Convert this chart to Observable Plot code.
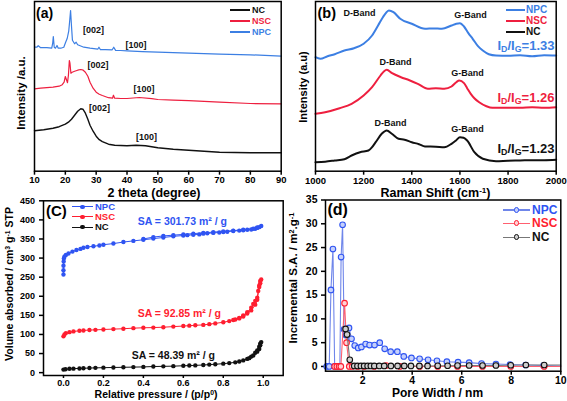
<!DOCTYPE html>
<html><head><meta charset="utf-8">
<script src="https://cdn.jsdelivr.net/npm/d3@7"></script>
<script src="https://cdn.jsdelivr.net/npm/@observablehq/plot@0.6"></script>
<style>
body{margin:0;background:#fff;}
#fig{position:relative;width:567px;height:401px;overflow:hidden;font-family:"Liberation Sans",Arial,sans-serif;font-weight:bold;}
#fig svg{position:absolute;}
.t{position:absolute;white-space:nowrap;line-height:1;}
.t sub{font-size:0.68em;vertical-align:-0.3em;line-height:0;}
.t sup{font-size:0.65em;vertical-align:0.45em;line-height:0;}
</style></head><body><div id="fig"></div>
<script>
// ---------- data: (a) XRD ----------
const xrdTicks = [10,20,30,40,50,60,70,80,90];
const xrdNC = [[10,40.5],[13,41.5],[16,43],[18,44.5],[20,47],[21,49],[22,52],[23,56],[24,60],[25,62.5],[25.7,62],[26.5,58],[27.3,52],[28,46],[29,40],[30,35],[31,31.5],[32,29.5],[34,27],[36,26],[40,25.5],[43,26],[46,25.5],[50,23.5],[55,22],[60,21],[65,20],[70,19],[80,18.5],[90,18.5]];
const xrdNSC = [[10,82.4],[12,83],[14,83.5],[16,84],[18,85],[19,86.5],[19.6,89],[20,94.7],[20.3,92],[20.7,88.5],[21,96],[21.3,110.7],[21.5,108],[21.8,98],[22.2,99],[23,100],[24,101],[25,101.7],[25.8,101],[26.5,99],[27.3,95],[28,89],[29,83],[30,79],[31,77],[32,75.7],[34,73.5],[35.3,73],[35.6,76],[36,73],[38,72.7],[40,72.7],[44,73.7],[48,72.5],[50,71.7],[55,71],[60,70.5],[70,69],[80,67.7],[90,67.4]];
const xrdNPC = [[10,124],[10.8,124],[11.2,125.5],[12,123.5],[14,123.5],[15.6,123],[15.9,128],[16.1,134.7],[16.4,124],[16.8,123],[17.3,125.7],[17.7,123],[18.5,123],[19.5,124],[20.1,129],[20.6,132.7],[21.1,140],[21.4,150],[21.7,160.7],[22,145],[22.3,131],[23,127.4],[23.5,129],[24,126.5],[26,124],[28,123],[30.5,122],[30.9,124],[31.4,121.5],[33,121.5],[35.2,121.4],[35.7,124],[36.3,120.8],[37.9,120.7],[40,120.3],[45,119.5],[50,119],[60,118],[70,117],[80,116.4],[90,115]];
const xrdNotes = [
  {t:"[002]", x:29.1, y:140.7, s:"NPC"}, {t:"[100]", x:42.9, y:125.7, s:"NPC"},
  {t:"[002]", x:30.6, y:105.7, s:"NSC"}, {t:"[100]", x:45.5, y:81.7, s:"NSC"},
  {t:"[002]", x:31.1, y:62.7, s:"NC"},  {t:"[100]", x:46.3, y:33.7, s:"NC"}
];
// ---------- data: (b) Raman ----------
const ramanTicks = [1000,1200,1400,1600,1800,2000];
const ramanNPC = [[1000,114],[1020,112.5],[1050,115],[1080,117],[1120,120.7],[1160,123],[1200,127.4],[1235,135.7],[1260,145.7],[1280,154],[1295,159],[1305,160.7],[1324,159],[1352,152.4],[1400,147.4],[1455,142.4],[1490,142.8],[1525,142.4],[1565,145.7],[1585,147.5],[1600,148],[1617,144.7],[1635,138],[1653,132.4],[1675,125],[1695,120.7],[1720,117],[1750,115.7],[1800,115.5],[1850,116],[1900,115],[1950,116],[2000,115.7]];
const ramanNSC = [[1000,57.4],[1040,59],[1100,63],[1150,67.4],[1200,75.7],[1235,84],[1270,95.7],[1285,100],[1296,101.4],[1318,98],[1355,94],[1390,91],[1425,87.4],[1467,82.4],[1500,83],[1535,82.4],[1565,84.7],[1585,89],[1597,90.7],[1617,88],[1630,83],[1645,77.4],[1660,73],[1680,69],[1710,65],[1735,63.4],[1800,63.5],[1850,63.4],[1900,64],[1950,63.5],[2000,64]];
const ramanNC = [[1000,9],[1040,9.5],[1080,10.7],[1120,12],[1150,15.7],[1185,19],[1220,20.7],[1235,24],[1250,29],[1275,37.4],[1296,40.7],[1317,37.4],[1345,32.4],[1370,31.5],[1400,29],[1430,27],[1455,24.7],[1500,24.5],[1535,24],[1565,27.4],[1585,31],[1600,34],[1615,33.5],[1630,30.7],[1660,19],[1695,12.4],[1750,10],[1800,10.5],[1850,10.7],[1900,11],[1950,11],[2000,11.4]];
const ramanNotes = [
  {t:"D-Band", x:1183, y:158, s:"NPC"}, {t:"G-Band", x:1644, y:155.7, s:"NPC"},
  {t:"D-Band", x:1332, y:108.7, s:"NSC"}, {t:"G-Band", x:1631, y:97.7, s:"NSC"},
  {t:"D-Band", x:1312, y:47.7, s:"NC"},  {t:"G-Band", x:1631, y:41.7, s:"NC"}
];
const ratioLabels = ["1.33","1.26","1.23"];
// ---------- data: (c) N2 isotherms ----------
const betXTicks = [0,0.2,0.4,0.6,0.8,1.0];
const betYTicks = [0,50,100,150,200,250,300,350,400,450];
const betNPC = [[0,257],[0,268],[0,280],[0.001,291],[0.002,299],[0.005,304],[0.012,308],[0.025,312],[0.045,317],[0.065,321],[0.085,324],[0.1,327],[0.12,329],[0.15,331],[0.18,333],[0.2,335],[0.25,338],[0.3,342],[0.35,345],[0.4,348],[0.45,351],[0.5,354],[0.55,357],[0.6,359],[0.62,360],[0.65,361],[0.68,362],[0.7,364],[0.72,365],[0.75,366],[0.78,367],[0.8,368],[0.82,369],[0.85,371],[0.88,372],[0.9,373],[0.92,374],[0.94,375],[0.96,377],[0.97,379],[0.98,381],[0.99,384],[0.97,380],[0.95,377],[0.9,374],[0.85,372],[0.8,370],[0.75,368],[0.7,366],[0.65,364],[0.6,362],[0.55,360],[0.5,358],[0.45,355],[0.4,350]];
const betNSC = [[0,95],[0.005,100],[0.012,103.6],[0.03,106],[0.05,108],[0.08,109.5],[0.1,110.5],[0.13,111.5],[0.16,112],[0.2,113],[0.25,114],[0.3,115],[0.35,116.5],[0.4,117.5],[0.45,118],[0.5,119],[0.55,120.5],[0.6,122],[0.63,123],[0.66,124],[0.7,125],[0.73,127],[0.76,129],[0.8,132],[0.83,135],[0.86,139],[0.88,143],[0.9,150],[0.92,158],[0.94,170],[0.95,180],[0.96,188],[0.97,196],[0.975,214],[0.98,228],[0.985,240],[0.99,244],[0.985,234],[0.98,224],[0.97,191],[0.96,178],[0.94,163],[0.92,155],[0.9,147],[0.88,142],[0.85,138]];
const betNC = [[0,8],[0.01,9],[0.03,10],[0.05,10.5],[0.08,11],[0.1,11.5],[0.13,12],[0.16,12.5],[0.2,13],[0.25,13.5],[0.3,14],[0.35,14.5],[0.4,15],[0.45,16],[0.5,16.5],[0.55,17],[0.6,18],[0.63,18.5],[0.66,19],[0.7,20],[0.73,21],[0.76,22],[0.8,23.5],[0.83,25],[0.86,27],[0.88,29],[0.9,32],[0.92,36],[0.94,42],[0.96,52],[0.97,58],[0.98,68],[0.985,76],[0.99,80],[0.985,72],[0.98,62],[0.97,55],[0.95,45],[0.93,38]];
const saNotes = [
  {t:"SA = 301.73 m² / g", x:0.595, y:396, s:"NPC"},
  {t:"SA = 92.85 m² / g", x:0.58, y:154, s:"NSC"},
  {t:"SA = 48.39 m² / g", x:0.55, y:45, s:"NC"}
];
// ---------- data: (d) pore size distribution ----------
const psdXTicks = [2,4,6,8,10];
const psdYTicks = [0,5,10,15,20,25,30,35];
const psdNPC = [[0.55,0],[0.65,0],[0.72,16.1],[0.8,24.7],[0.87,0],[0.95,0],[1.02,0],[1.08,0],[1.13,23],[1.19,29.8],[1.25,7.8],[1.32,6.6],[1.45,8.1],[1.55,5.8],[1.68,4.4],[1.82,3.9],[1.95,4.1],[2.12,4.7],[2.28,4.5],[2.48,4.5],[2.69,5.0],[2.89,3.7],[3.13,3.1],[3.4,3.1],[3.66,2.1],[3.97,1.8],[4.3,1.6],[4.64,1.4],[5.0,1.2],[5.4,1.0],[5.85,0.9],[6.3,0.8],[6.8,0.6],[7.38,0.5],[7.95,0.4],[8.58,0.3],[9.3,0.2]];
const psdNSC = [[0.87,0],[0.96,0],[1.05,0],[1.12,0],[1.27,13.3],[1.35,5.0],[1.46,0],[1.58,0],[1.8,0],[2.06,0],[2.47,0],[2.95,0.2],[3.5,0],[4.3,0],[5.03,0],[5.83,0],[6.84,0],[7.98,0],[9.33,0]];
const psdNC = [[1.31,7.9],[1.37,6.7],[1.48,1.4],[1.66,0.1],[1.79,0.1],[1.93,0.1],[2.06,0.1],[2.2,0.1],[2.33,0.1],[2.47,0.1],[2.67,0.1],[2.87,0.1],[3.14,0.1],[3.41,0.1],[3.68,0.1],[3.95,0.1],[4.29,0.1],[4.62,0.1],[5.03,0.15],[5.43,0.15],[5.83,0.2],[6.3,0.2],[6.84,0.2],[7.38,0.2],[7.98,0.25],[8.59,0.3],[9.33,0.3]];

// ---------- styles ----------
const FONT = '"Liberation Sans", Arial, sans-serif';
const colAB = {NC:"#111111", NSC:"#ee1f3f", NPC:"#3c7fe3"};
const colCD = {NC:"#111111", NSC:"#ff1e30", NPC:"#2f54f2"};
const fig = document.getElementById("fig");
const X = d => d[0], Y = d => d[1];

function put(svg, left, top) { svg.style.left = left + "px"; svg.style.top = top + "px"; fig.appendChild(svg); }
function addText(html, x, y, {size = 10, color = "#000", anchor = "left", rotate = false} = {}) {
  const d = document.createElement("div");
  d.className = "t"; d.innerHTML = html;
  d.style.fontSize = size + "px"; d.style.color = color;
  d.style.left = x + "px"; d.style.top = y + "px";
  const tx = anchor === "middle" ? "-50%" : anchor === "right" ? "-100%" : "0";
  d.style.transform = rotate ? "translate(-50%,-50%) rotate(-90deg)" : `translate(${tx},-50%)`;
  fig.appendChild(d);
}
function addLegend(keys, cols, x0, x1, ys, labelX, size, lw, dot) {
  keys.forEach((k, i) => {
    const l = document.createElement("div");
    l.style.cssText = `position:absolute;left:${x0}px;top:${ys[i] - lw / 2}px;width:${x1 - x0}px;height:${lw}px;background:${dot && dot.line ? dot.line[k] : cols[k]}`;
    fig.appendChild(l);
    if (dot) {
      const c = document.createElement("div"), r = dot.r;
      c.style.cssText = `position:absolute;left:${(x0 + x1) / 2 - r}px;top:${ys[i] - r}px;width:${2 * r - 2 * dot.sw}px;height:${2 * r - 2 * dot.sw}px;border-radius:50%;border:${dot.sw}px solid ${cols[k]};background:${dot.fill ? dot.fill[k] : cols[k]}`;
      fig.appendChild(c);
    }
    addText(k, labelX, ys[i], {size, color: cols[k]});
  });
}
const baseStyle = size => ({fontFamily: FONT, fontSize: size + "px", fontWeight: "bold", background: "transparent", color: "black", overflow: "visible"});

// ---------- (a) ----------
const pa = Plot.plot({
  width: 285, height: 200, marginLeft: 34, marginRight: 4.3, marginTop: 1, marginBottom: 29.3,
  style: baseStyle(9.5),
  x: {domain: [10, 90]}, y: {domain: [0, 169.7], axis: null},
  marks: [
    Plot.axisX({ticks: xrdTicks, tickSize: 4, tickPadding: 1.5, strokeWidth: 1.5, label: null}),
    Plot.line(xrdNC, {x: X, y: Y, stroke: colAB.NC, strokeWidth: 1.4}),
    Plot.line(xrdNSC, {x: X, y: Y, stroke: colAB.NSC, strokeWidth: 1.2}),
    Plot.line(xrdNPC, {x: X, y: Y, stroke: colAB.NPC, strokeWidth: 1.2}),
    Plot.text(xrdNotes, {x: "x", y: "y", text: "t", fill: "#111", fontSize: 9}),
    Plot.frame({stroke: "black", strokeWidth: 1.5})
  ]
});
put(pa, 0, 0);

// ---------- (b) ----------
const pb = Plot.plot({
  width: 282, height: 200, marginLeft: 30, marginRight: 11.3, marginTop: 1, marginBottom: 29.3,
  style: baseStyle(9.5),
  x: {domain: [1000, 2000]}, y: {domain: [0, 169.7], axis: null},
  marks: [
    Plot.axisX({ticks: ramanTicks, tickFormat: d => String(d), tickSize: 4, tickPadding: 2, strokeWidth: 1.5, label: null}),
    Plot.line(ramanNC, {x: X, y: Y, stroke: colAB.NC, strokeWidth: 2, curve: "monotone-x"}),
    Plot.line(ramanNSC, {x: X, y: Y, stroke: colAB.NSC, strokeWidth: 2, curve: "monotone-x"}),
    Plot.line(ramanNPC, {x: X, y: Y, stroke: colAB.NPC, strokeWidth: 2, curve: "monotone-x"}),
    Plot.text(ramanNotes, {x: "x", y: "y", text: "t", fill: "#111", fontSize: 9}),
    Plot.frame({stroke: "black", strokeWidth: 1.5})
  ]
});
put(pb, 285, 0);

// ---------- (c) ----------
const pc = Plot.plot({
  width: 285, height: 206, marginLeft: 43, marginRight: 2.3, marginTop: 5.3, marginBottom: 26,
  style: baseStyle(9),
  x: {domain: [-0.1, 1.1]}, y: {domain: [-7.5, 450]},
  marks: [
    Plot.axisX({ticks: betXTicks, tickFormat: d3.format(".1f"), tickSize: 3, tickPadding: 1.5, strokeWidth: 1.5, label: null}),
    Plot.axisY({ticks: betYTicks, tickSize: 4, tickPadding: 4.5, strokeWidth: 1.5, label: null}),
    Plot.line(betNC, {x: X, y: Y, stroke: colCD.NC, strokeWidth: 1}),
    Plot.dot(betNC, {x: X, y: Y, fill: colCD.NC, r: 2.2}),
    Plot.line(betNSC, {x: X, y: Y, stroke: colCD.NSC, strokeWidth: 1}),
    Plot.dot(betNSC, {x: X, y: Y, fill: colCD.NSC, r: 2.2}),
    Plot.line(betNPC, {x: X, y: Y, stroke: colCD.NPC, strokeWidth: 1}),
    Plot.dot(betNPC, {x: X, y: Y, fill: colCD.NPC, r: 2.2}),
    Plot.text(saNotes, {x: "x", y: "y", text: "t", fill: d => colCD[d.s], fontSize: 10.5}),
    Plot.frame({stroke: "black", strokeWidth: 1.5})
  ]
});
put(pc, 0, 195);

// ---------- (d) ----------
const lineD = {NPC: "#6f86ea", NSC: "#ff6070", NC: "#777777"};
const fillD = {NPC: "#c5d0fb", NSC: "#ffd0d4", NC: "#cfcfcf"};
const pd = Plot.plot({
  width: 282, height: 206, marginLeft: 40, marginRight: 6.7, marginTop: 4.5, marginBottom: 30.3,
  style: baseStyle(10.5),
  x: {domain: [0.5, 10]}, y: {domain: [-1, 35]},
  marks: [
    Plot.axisX({ticks: psdXTicks, tickSize: 4, tickPadding: 1, strokeWidth: 1.5, label: null}),
    Plot.axisY({ticks: psdYTicks, tickSize: 4, tickPadding: 4, strokeWidth: 1.5, label: null}),
    Plot.line(psdNPC.concat([[10, 0.1]]), {x: X, y: Y, stroke: lineD.NPC, strokeWidth: 1.1}),
    Plot.dot(psdNPC, {x: X, y: Y, stroke: colCD.NPC, fill: fillD.NPC, r: 2.8, strokeWidth: 1.1}),
    Plot.line(psdNSC.concat([[10, 0]]), {x: X, y: Y, stroke: lineD.NSC, strokeWidth: 1.1}),
    Plot.dot(psdNSC, {x: X, y: Y, stroke: colCD.NSC, fill: fillD.NSC, r: 2.8, strokeWidth: 1.1}),
    Plot.line(psdNC.concat([[10, 0.3]]), {x: X, y: Y, stroke: lineD.NC, strokeWidth: 1.1}),
    Plot.dot(psdNC, {x: X, y: Y, stroke: colCD.NC, fill: fillD.NC, r: 2.8, strokeWidth: 1.1}),
    Plot.frame({stroke: "black", strokeWidth: 1.5})
  ]
});
put(pd, 285, 195);

// ---------- panel letters, axis titles, legends ----------
addText("(a)", 36, 13, {size: 14});
addText("(b)", 317.5, 13, {size: 14.5});
addText("(C)", 46, 210, {size: 15});
addText("(d)", 327.5, 210, {size: 16});

addText("2 theta (degree)", 154, 192.5, {size: 12.5, anchor: "middle"});
addText("Intensity /a.u.", 22, 92.5, {size: 11.5, rotate: true});
addText("Raman Shift (cm<sup>-1</sup>)", 435.5, 192.5, {size: 12.5, anchor: "middle"});
addText("Intensity (a.u)", 302.5, 87, {size: 11, rotate: true});
addText("Relative pressure / (p/p<sup>0</sup>)", 156, 394, {size: 10.5, anchor: "middle"});
addText("Volume absorbed / cm<sup>3</sup> g<sup>-1</sup> STP", 9, 283.5, {size: 10.5, rotate: true});
addText("Pore Width / nm", 437.5, 393, {size: 12, anchor: "middle"});
addText("Incremental S.A. / m<sup>2</sup>.g<sup>-1</sup>", 294, 277.5, {size: 11.5, rotate: true});

["NPC", "NSC", "NC"].forEach((k, i) =>
  addText(`I<sub>D</sub>/I<sub>G</sub>=${ratioLabels[i]}`, 554.5, [45, 97, 148][i], {size: 13, color: k === "NC" ? "#111" : colAB[k], anchor: "right"}));

addLegend(["NC", "NSC", "NPC"], colAB, 230, 250, [10, 21, 32], 252, 9, 1.5);
addLegend(["NPC", "NSC", "NC"], colAB, 505.7, 525, [10, 21, 32], 526, 10, 2.5);
addLegend(["NPC", "NSC", "NC"], colCD, 72, 93, [206.7, 216.7, 227.3], 95, 9.5, 1.2, {r: 2.2, sw: 0});
addLegend(["NPC", "NSC", "NC"], colCD, 503, 530, [210, 223.3, 237.3], 532, 12, 1.2, {r: 3, sw: 1.1, fill: fillD, line: lineD});
</script></body></html>
